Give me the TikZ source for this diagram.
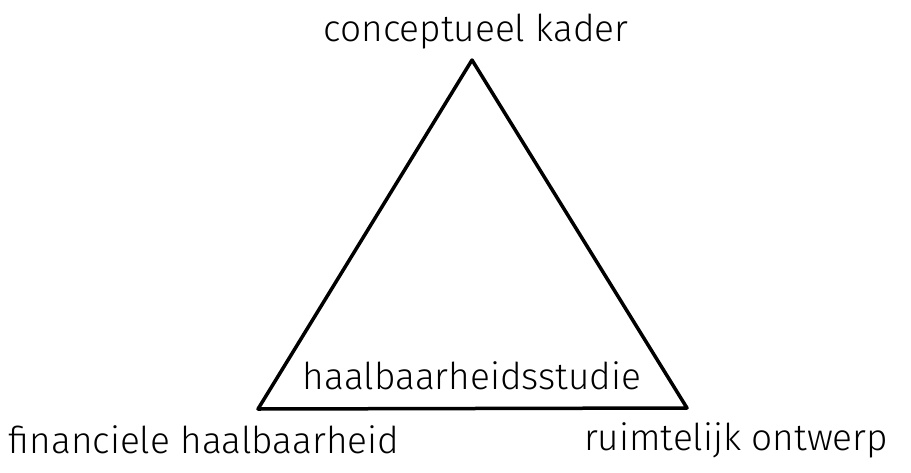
\documentclass[tikz,border=0pt]{standalone}
\usepackage{fontspec}
\setmainfont{Fira Sans}
\begin{document}
\begin{tikzpicture}[x=1pt,y=-1pt]

        \tikzset{every node/.style={inner sep=0pt, font=\fontsize{37}{42}\selectfont\fontspec{Fira Sans Light}},
                 side/.style={line width=3.5pt, line join=round, line cap=round}}

        \useasboundingbox (0, 0) rectangle (911, 472);

        % corners of the triangle
        \coordinate (top) at (472, 60);
        \coordinate (left) at (258, 409);
        \coordinate (right) at (687, 408);

        % labels at the corners
        \node at (476, 32) (kader) {conceptueel kader};
        \node at (204, 440) (financieel) {financiele haalbaarheid};
        \node at (736, 440) (ontwerp) {ruimtelijk ontwerp};

        % label inside, near the base
        \node at (472, 376) (studie) {haalbaarheidsstudie};

        % sides
        \draw[side] (top) -- (right) -- (left) -- cycle;

    \end{tikzpicture}
\end{document}
